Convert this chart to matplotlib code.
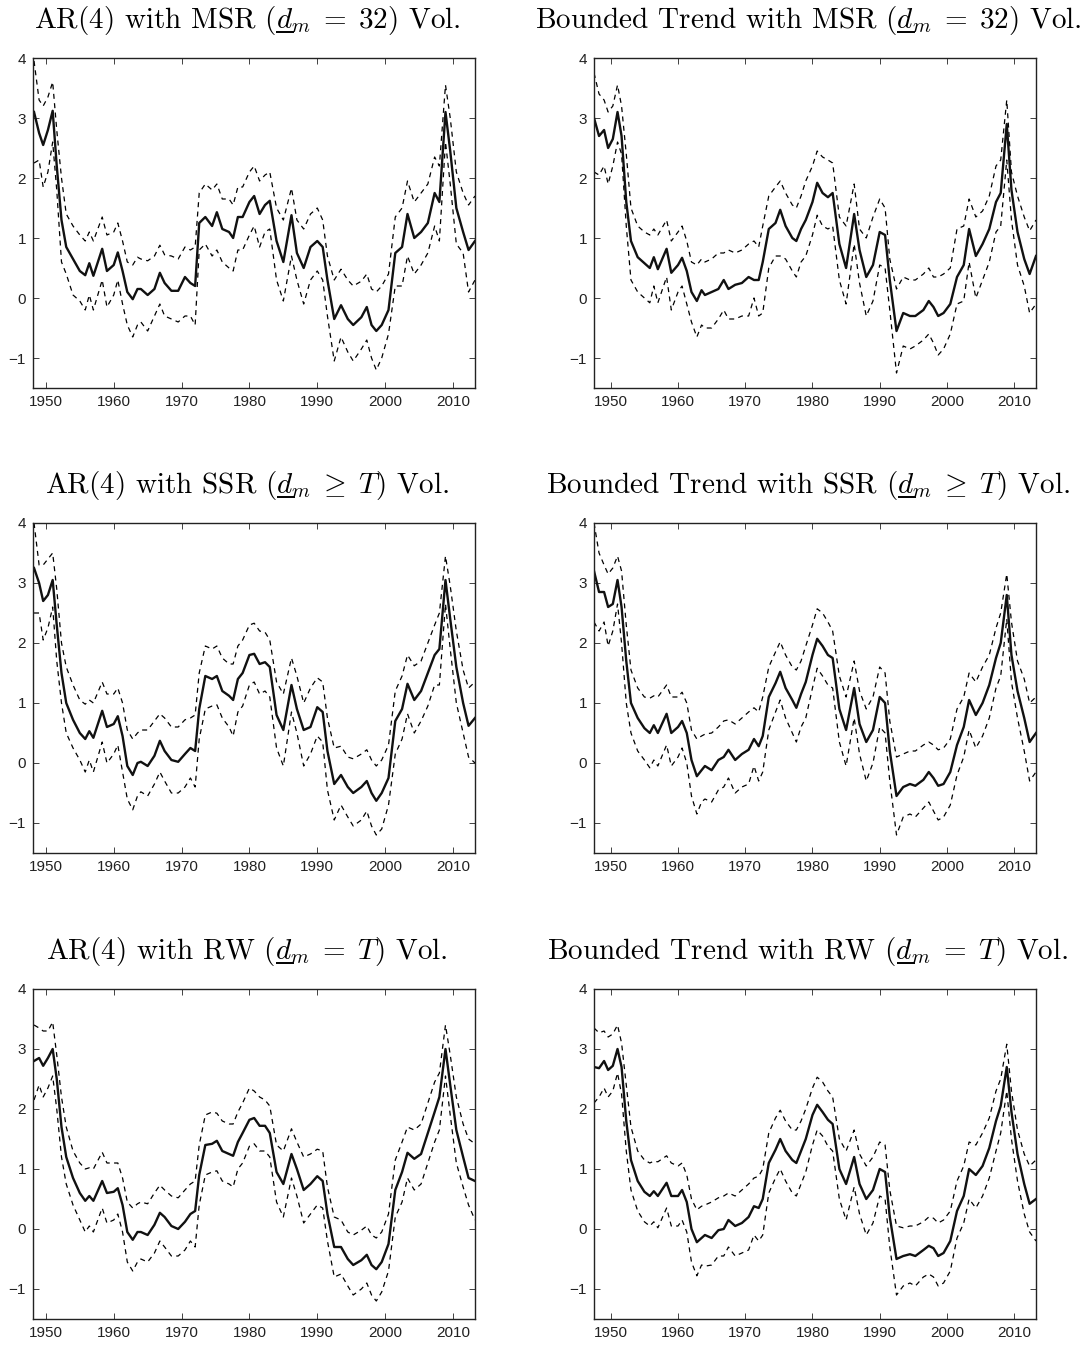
import matplotlib
matplotlib.use("Agg")
import matplotlib.pyplot as plt
from matplotlib.lines import Line2D
import numpy as np

plt.rcParams['mathtext.fontset'] = 'cm'
plt.rcParams['font.family'] = ['Liberation Sans', 'DejaVu Sans']

# ---------------- data ----------------
years_common = [1948.25, 1949.0, 1949.6, 1950.3, 1951.0, 1951.6,
                1952.3, 1953.0, 1954.0, 1955.0, 1955.8, 1956.4, 1957.0, 1958.3, 1959.0,
                1960.0, 1960.6, 1961.3, 1962.0, 1962.8, 1963.5, 1964.0, 1965.0, 1966.0, 1966.8, 1967.5, 1968.5, 1969.5,
                1970.5, 1971.3, 1972.0, 1972.6, 1973.5, 1974.5, 1975.2, 1976.0, 1977.0, 1977.6, 1978.3, 1979.0,
                1980.0, 1980.7, 1981.5, 1982.3, 1983.0, 1984.0, 1985.0, 1986.2, 1987.0, 1988.0, 1989.0,
                1990.0, 1990.8, 1991.5, 1992.5, 1993.5, 1994.5, 1995.3, 1996.5, 1997.3, 1998.0, 1998.7, 1999.5,
                2000.5, 2001.5, 2002.5, 2003.3, 2004.3, 2005.3, 2006.3, 2007.3, 2008.0, 2008.9, 2009.6, 2010.5,
                2011.5, 2012.3, 2013.25]
years_left = years_common
years_right = [1947.5] + years_common

# AR(4) with MSR
ar_msr_mid = [3.10, 2.75, 2.55, 2.80, 3.12, 2.20,
              1.30, 0.85, 0.65, 0.45, 0.38, 0.58, 0.37, 0.82, 0.45,
              0.55, 0.76, 0.45, 0.10, -0.02, 0.15, 0.15, 0.05, 0.15, 0.42, 0.25, 0.12, 0.12,
              0.35, 0.25, 0.20, 1.25, 1.35, 1.20, 1.43, 1.15, 1.10, 1.00, 1.35, 1.35,
              1.60, 1.70, 1.40, 1.55, 1.62, 0.95, 0.60, 1.38, 0.75, 0.50, 0.85,
              0.95, 0.85, 0.30, -0.35, -0.12, -0.35, -0.45, -0.32, -0.15, -0.45, -0.55, -0.45,
              -0.20, 0.75, 0.85, 1.40, 1.00, 1.10, 1.25, 1.75, 1.60, 3.10, 2.45, 1.50, 1.10, 0.80, 0.95]
ar_msr_up = [3.95, 3.30, 3.20, 3.35, 3.60, 2.80,
             2.00, 1.40, 1.20, 1.05, 0.95, 1.10, 0.95, 1.35, 1.05,
             1.10, 1.25, 0.95, 0.60, 0.55, 0.68, 0.65, 0.62, 0.70, 0.88, 0.72, 0.70, 0.65,
             0.85, 0.80, 0.85, 1.75, 1.90, 1.80, 1.90, 1.65, 1.65, 1.55, 1.85, 1.85,
             2.10, 2.20, 1.95, 2.05, 2.10, 1.50, 1.30, 1.83, 1.30, 1.15, 1.40,
             1.50, 1.30, 0.70, 0.30, 0.48, 0.30, 0.20, 0.28, 0.40, 0.15, 0.10, 0.20,
             0.40, 1.35, 1.50, 1.95, 1.60, 1.75, 1.90, 2.35, 2.20, 3.55, 3.00, 2.10, 1.75, 1.55, 1.70]
ar_msr_lo = [2.25, 2.30, 1.85, 2.10, 2.60, 1.80,
             0.60, 0.40, 0.05, -0.05, -0.20, 0.05, -0.20, 0.30, -0.15,
             0.05, 0.30, -0.10, -0.45, -0.65, -0.45, -0.40, -0.55, -0.30, -0.10, -0.30, -0.35, -0.40,
             -0.30, -0.30, -0.45, 0.80, 0.90, 0.70, 0.80, 0.60, 0.50, 0.45, 0.80, 0.80,
             1.05, 1.20, 0.85, 1.10, 1.15, 0.30, -0.05, 0.70, 0.30, -0.10, 0.30,
             0.45, 0.30, -0.30, -1.05, -0.65, -0.90, -1.05, -0.85, -0.70, -1.00, -1.20, -1.00,
             -0.60, 0.20, 0.20, 0.70, 0.40, 0.55, 0.75, 1.20, 0.95, 2.60, 1.90, 0.90, 0.75, 0.10, 0.30]

# AR(4) with SSR
ar_ssr_mid = [3.25, 3.00, 2.70, 2.80, 3.05, 2.30,
              1.50, 1.00, 0.72, 0.50, 0.40, 0.53, 0.42, 0.87, 0.60,
              0.65, 0.78, 0.45, -0.05, -0.20, 0.00, 0.02, -0.05, 0.12, 0.37, 0.20, 0.05, 0.02,
              0.15, 0.25, 0.20, 0.90, 1.45, 1.40, 1.45, 1.20, 1.12, 1.05, 1.40, 1.50,
              1.80, 1.82, 1.65, 1.68, 1.60, 0.80, 0.55, 1.30, 0.90, 0.55, 0.60,
              0.93, 0.85, 0.20, -0.35, -0.20, -0.40, -0.50, -0.40, -0.30, -0.50, -0.63, -0.50,
              -0.25, 0.70, 0.90, 1.32, 1.05, 1.20, 1.50, 1.80, 1.90, 3.05, 2.40, 1.60, 1.00, 0.62, 0.75]
ar_ssr_up = [4.00, 3.30, 3.30, 3.40, 3.50, 2.90,
             2.00, 1.60, 1.30, 1.05, 0.98, 1.05, 1.00, 1.35, 1.15,
             1.15, 1.25, 1.00, 0.55, 0.40, 0.50, 0.55, 0.55, 0.70, 0.82, 0.75, 0.60, 0.60,
             0.72, 0.75, 0.80, 1.50, 1.95, 1.90, 1.95, 1.75, 1.65, 1.65, 1.95, 2.05,
             2.30, 2.33, 2.20, 2.18, 2.05, 1.35, 1.15, 1.75, 1.45, 1.00, 1.25,
             1.42, 1.35, 0.75, 0.25, 0.28, 0.10, 0.07, 0.15, 0.22, 0.05, -0.05, 0.05,
             0.30, 1.20, 1.45, 1.80, 1.62, 1.70, 2.00, 2.30, 2.50, 3.45, 2.95, 2.20, 1.55, 1.25, 1.35]
ar_ssr_lo = [2.50, 2.50, 2.05, 2.25, 2.60, 1.70,
             1.00, 0.50, 0.25, 0.05, -0.15, 0.05, -0.15, 0.35, 0.00,
             0.15, 0.30, -0.15, -0.60, -0.78, -0.55, -0.48, -0.55, -0.35, -0.15, -0.30, -0.50, -0.50,
             -0.40, -0.25, -0.40, 0.40, 0.90, 0.95, 0.97, 0.75, 0.60, 0.45, 0.85, 0.95,
             1.30, 1.35, 1.15, 1.20, 1.10, 0.25, -0.05, 0.85, 0.50, -0.05, 0.15,
             0.45, 0.35, -0.45, -0.95, -0.70, -0.90, -1.05, -0.95, -0.80, -1.05, -1.20, -1.10,
             -0.70, 0.15, 0.40, 0.82, 0.50, 0.70, 0.95, 1.30, 1.30, 2.65, 1.90, 1.00, 0.50, 0.10, 0.00]

# AR(4) with RW
ar_rw_mid = [2.80, 2.85, 2.72, 2.85, 3.00, 2.50,
             1.70, 1.20, 0.85, 0.60, 0.47, 0.55, 0.47, 0.80, 0.60,
             0.62, 0.68, 0.40, -0.05, -0.18, -0.05, -0.05, -0.10, 0.07, 0.27, 0.20, 0.05, 0.00,
             0.12, 0.25, 0.30, 0.90, 1.40, 1.42, 1.47, 1.30, 1.25, 1.22, 1.45, 1.60,
             1.82, 1.85, 1.72, 1.72, 1.60, 0.95, 0.75, 1.25, 1.00, 0.65, 0.75,
             0.88, 0.80, 0.25, -0.30, -0.30, -0.50, -0.60, -0.52, -0.43, -0.60, -0.67, -0.55,
             -0.25, 0.65, 0.95, 1.27, 1.17, 1.25, 1.60, 1.95, 2.20, 3.00, 2.40, 1.65, 1.20, 0.85, 0.80]
ar_rw_up = [3.40, 3.35, 3.30, 3.30, 3.45, 2.90,
            2.20, 1.70, 1.30, 1.10, 1.00, 1.02, 1.00, 1.28, 1.10,
            1.10, 1.10, 0.85, 0.45, 0.35, 0.42, 0.45, 0.42, 0.60, 0.73, 0.65, 0.55, 0.52,
            0.65, 0.75, 0.80, 1.40, 1.90, 1.95, 1.93, 1.80, 1.75, 1.75, 1.95, 2.10,
            2.35, 2.30, 2.20, 2.15, 2.05, 1.40, 1.30, 1.67, 1.45, 1.20, 1.25,
            1.33, 1.30, 0.70, 0.20, 0.15, -0.05, -0.10, -0.02, 0.05, -0.10, -0.15, -0.05,
            0.25, 1.15, 1.45, 1.70, 1.65, 1.75, 2.10, 2.45, 2.60, 3.40, 2.90, 2.20, 1.75, 1.50, 1.42]
ar_rw_lo = [2.15, 2.40, 2.20, 2.35, 2.55, 2.00,
            1.20, 0.75, 0.40, 0.15, -0.05, 0.05, -0.05, 0.35, 0.10,
            0.15, 0.25, -0.05, -0.55, -0.70, -0.55, -0.50, -0.55, -0.40, -0.20, -0.30, -0.45, -0.45,
            -0.35, -0.20, -0.30, 0.40, 0.90, 0.95, 0.97, 0.80, 0.75, 0.70, 1.00, 1.10,
            1.38, 1.42, 1.30, 1.30, 1.20, 0.45, 0.20, 0.85, 0.55, 0.10, 0.25,
            0.40, 0.35, -0.20, -0.80, -0.75, -0.95, -1.10, -1.00, -0.90, -1.10, -1.20, -1.05,
            -0.70, 0.20, 0.45, 0.85, 0.65, 0.75, 1.10, 1.45, 1.65, 2.55, 1.90, 1.10, 0.70, 0.40, 0.15]

# Bounded Trend with MSR
bt_msr_mid = [3.00,
              2.70, 2.80, 2.50, 2.65, 3.10, 2.70,
              1.60, 0.95, 0.68, 0.58, 0.50, 0.68, 0.48, 0.82, 0.42,
              0.55, 0.67, 0.45, 0.10, -0.05, 0.13, 0.05, 0.10, 0.15, 0.30, 0.15, 0.22, 0.25,
              0.35, 0.30, 0.30, 0.60, 1.15, 1.25, 1.47, 1.20, 1.00, 0.95, 1.15, 1.30,
              1.60, 1.92, 1.75, 1.68, 1.75, 0.90, 0.50, 1.40, 0.80, 0.35, 0.55,
              1.10, 1.05, 0.30, -0.55, -0.25, -0.30, -0.30, -0.20, -0.05, -0.15, -0.30, -0.25,
              -0.10, 0.35, 0.55, 1.15, 0.70, 0.90, 1.15, 1.60, 1.75, 2.90, 1.80, 1.10, 0.65, 0.40, 0.70]
bt_msr_up = [3.75,
             3.40, 3.30, 3.10, 3.20, 3.55, 3.20,
             2.40, 1.50, 1.20, 1.10, 1.05, 1.15, 1.05, 1.30, 0.95,
             1.10, 1.20, 0.95, 0.60, 0.55, 0.65, 0.60, 0.65, 0.75, 0.75, 0.80, 0.75, 0.80,
             0.90, 0.95, 0.85, 1.20, 1.70, 1.85, 1.95, 1.75, 1.55, 1.50, 1.70, 1.95,
             2.20, 2.45, 2.35, 2.30, 2.25, 1.35, 1.20, 1.90, 1.15, 1.00, 1.35,
             1.65, 1.50, 0.65, 0.15, 0.35, 0.30, 0.30, 0.40, 0.50, 0.35, 0.35, 0.40,
             0.50, 1.15, 1.20, 1.65, 1.35, 1.45, 1.70, 2.20, 2.30, 3.30, 2.10, 1.70, 1.35, 1.12, 1.30]
bt_msr_lo = [2.10,
             2.05, 2.20, 1.90, 2.20, 2.60, 2.40,
             1.20, 0.30, 0.10, 0.00, -0.08, 0.20, -0.08, 0.35, -0.20,
             0.10, 0.20, -0.10, -0.40, -0.65, -0.45, -0.50, -0.50, -0.35, -0.20, -0.35, -0.35, -0.30,
             -0.30, 0.00, -0.30, -0.25, 0.50, 0.70, 0.70, 0.65, 0.45, 0.35, 0.60, 0.70,
             1.05, 1.38, 1.20, 1.15, 1.20, 0.30, -0.10, 0.90, 0.25, -0.30, -0.05,
             0.55, 0.50, -0.20, -1.25, -0.80, -0.85, -0.80, -0.70, -0.60, -0.75, -0.95, -0.85,
             -0.60, -0.10, -0.05, 0.60, 0.00, 0.30, 0.60, 1.10, 1.20, 2.30, 1.30, 0.55, 0.20, -0.25, -0.10]

# Bounded Trend with SSR
bt_ssr_mid = [3.20,
              2.85, 2.85, 2.60, 2.65, 3.05, 2.60,
              1.70, 1.00, 0.75, 0.58, 0.50, 0.63, 0.50, 0.82, 0.50,
              0.60, 0.70, 0.50, 0.05, -0.22, -0.12, -0.05, -0.12, 0.05, 0.10, 0.22, 0.05, 0.15,
              0.22, 0.40, 0.28, 0.45, 1.10, 1.33, 1.52, 1.25, 1.05, 0.92, 1.15, 1.35,
              1.80, 2.07, 1.95, 1.80, 1.75, 0.90, 0.55, 1.25, 0.65, 0.35, 0.55,
              1.10, 1.00, 0.20, -0.55, -0.40, -0.35, -0.38, -0.28, -0.15, -0.25, -0.38, -0.35,
              -0.15, 0.30, 0.60, 1.05, 0.80, 1.00, 1.30, 1.75, 2.00, 2.80, 1.80, 1.20, 0.75, 0.35, 0.50]
bt_ssr_up = [4.00,
             3.50, 3.30, 3.15, 3.25, 3.45, 3.20,
             2.30, 1.55, 1.25, 1.10, 1.08, 1.12, 1.10, 1.30, 1.10,
             1.10, 1.18, 1.00, 0.55, 0.40, 0.45, 0.48, 0.50, 0.60, 0.70, 0.72, 0.65, 0.75,
             0.85, 0.92, 0.85, 1.10, 1.60, 1.85, 2.02, 1.80, 1.60, 1.55, 1.70, 1.95,
             2.30, 2.57, 2.50, 2.35, 2.20, 1.45, 1.10, 1.70, 1.20, 0.90, 1.10,
             1.60, 1.50, 0.70, 0.10, 0.15, 0.20, 0.20, 0.30, 0.35, 0.30, 0.22, 0.25,
             0.40, 0.90, 1.10, 1.50, 1.35, 1.60, 1.80, 2.25, 2.50, 3.15, 2.35, 1.70, 1.40, 1.00, 1.10]
bt_ssr_lo = [2.35,
             2.20, 2.35, 1.95, 2.20, 2.65, 2.00,
             1.00, 0.50, 0.20, 0.05, -0.08, 0.05, -0.05, 0.30, -0.05,
             0.10, 0.25, 0.00, -0.55, -0.85, -0.65, -0.60, -0.65, -0.45, -0.40, -0.25, -0.50, -0.40,
             -0.35, -0.05, -0.30, -0.15, 0.55, 0.85, 1.05, 0.75, 0.50, 0.35, 0.60, 0.75,
             1.25, 1.58, 1.45, 1.30, 1.25, 0.35, -0.05, 0.75, 0.15, -0.30, 0.00,
             0.60, 0.50, -0.30, -1.20, -0.90, -0.85, -0.90, -0.75, -0.65, -0.80, -0.95, -0.90,
             -0.70, -0.20, 0.10, 0.55, 0.25, 0.45, 0.75, 1.25, 1.45, 2.40, 1.35, 0.75, 0.20, -0.30, -0.15]

# Bounded Trend with RW
bt_rw_mid = [2.70,
             2.68, 2.80, 2.65, 2.72, 3.00, 2.70,
             1.80, 1.15, 0.80, 0.62, 0.55, 0.63, 0.55, 0.77, 0.55,
             0.55, 0.65, 0.45, 0.00, -0.22, -0.15, -0.10, -0.15, -0.02, 0.00, 0.15, 0.05, 0.10,
             0.20, 0.38, 0.35, 0.50, 1.10, 1.32, 1.50, 1.30, 1.15, 1.10, 1.30, 1.50,
             1.90, 2.07, 1.95, 1.82, 1.75, 1.00, 0.75, 1.20, 0.75, 0.50, 0.65,
             1.00, 0.95, 0.20, -0.50, -0.45, -0.42, -0.45, -0.35, -0.28, -0.32, -0.45, -0.40,
             -0.20, 0.30, 0.55, 1.00, 0.90, 1.05, 1.35, 1.80, 2.05, 2.70, 1.95, 1.25, 0.75, 0.42, 0.50]
bt_rw_up = [3.35,
            3.27, 3.30, 3.20, 3.25, 3.40, 3.10,
            2.40, 1.70, 1.30, 1.15, 1.10, 1.13, 1.12, 1.22, 1.10,
            1.05, 1.10, 0.90, 0.50, 0.32, 0.38, 0.40, 0.45, 0.52, 0.55, 0.60, 0.55, 0.65,
            0.75, 0.85, 0.88, 1.00, 1.60, 1.85, 1.98, 1.80, 1.65, 1.65, 1.80, 2.00,
            2.35, 2.53, 2.45, 2.30, 2.20, 1.50, 1.30, 1.65, 1.25, 1.05, 1.20,
            1.45, 1.40, 0.65, 0.05, 0.02, 0.05, 0.05, 0.12, 0.20, 0.18, 0.10, 0.15,
            0.30, 0.80, 1.05, 1.45, 1.40, 1.60, 1.85, 2.30, 2.50, 3.08, 2.30, 1.65, 1.25, 1.05, 1.15]
bt_rw_lo = [2.10,
            2.20, 2.35, 2.20, 2.30, 2.60, 2.25,
            1.30, 0.65, 0.30, 0.12, 0.05, 0.12, 0.02, 0.35, 0.05,
            0.05, 0.15, -0.05, -0.55, -0.78, -0.60, -0.62, -0.60, -0.45, -0.45, -0.30, -0.45, -0.40,
            -0.35, -0.10, -0.20, -0.10, 0.60, 0.85, 1.00, 0.80, 0.60, 0.55, 0.75, 0.95,
            1.40, 1.65, 1.55, 1.38, 1.30, 0.50, 0.15, 0.70, 0.25, -0.10, 0.10,
            0.55, 0.50, -0.30, -1.10, -0.95, -0.90, -0.95, -0.80, -0.75, -0.80, -0.95, -0.90,
            -0.70, -0.15, 0.10, 0.50, 0.35, 0.55, 0.85, 1.30, 1.60, 2.30, 1.50, 0.80, 0.25, -0.05, -0.20]

# title pieces: prefix text, math part (the "d" gets an underline), suffix
title_prefix = [['AR(4) with MSR (', 'Bounded Trend with MSR ('],
                ['AR(4) with SSR (', 'Bounded Trend with SSR ('],
                ['AR(4) with RW (', 'Bounded Trend with RW (']]
title_math = [r'$d_m \;=\; 32$', r'$d_m \;\geq\; T$', r'$d_m \;=\; T$']
title_suffix = ') Vol.'

panels = [
    [(years_left, ar_msr_mid, ar_msr_up, ar_msr_lo), (years_right, bt_msr_mid, bt_msr_up, bt_msr_lo)],
    [(years_left, ar_ssr_mid, ar_ssr_up, ar_ssr_lo), (years_right, bt_ssr_mid, bt_ssr_up, bt_ssr_lo)],
    [(years_left, ar_rw_mid, ar_rw_up, ar_rw_lo), (years_right, bt_rw_mid, bt_rw_up, bt_rw_lo)],
]
xlims = [(1948.1, 2013.25), (1947.5, 2013.25)]
xticks = [1950, 1960, 1970, 1980, 1990, 2000, 2010]
yticks = [-1, 0, 1, 2, 3, 4]

# ---------------- figure ----------------
W, H = 1091, 1345
fig = plt.figure(figsize=(W / 100, H / 100), dpi=100)
renderer = fig.canvas.get_renderer()
lefts = [33, 594]
tops = [58, 523, 989]
aw, ah = 442, 330
TFS = 21


def text_width(s):
    t = fig.text(0, 0, s, fontsize=TFS, family='cmr10')
    w = t.get_window_extent(renderer).width
    t.remove()
    return w


def add_title(cx, base_y, prefix, math):
    full = prefix + math + title_suffix
    total = text_width(full)
    x0 = cx - total / 2
    fig.text(x0 / W, base_y / H, full, fontsize=TFS, family='cmr10',
             ha='left', va='baseline')
    # underline beneath the "d"
    dx0 = x0 + text_width(prefix)
    dw = text_width(r'$d$')
    uy = base_y - 4
    fig.add_artist(Line2D([(dx0 + 0.5) / W, (dx0 + dw + 1.5) / W], [uy / H, uy / H],
                          transform=fig.transFigure, color='k', lw=1.4,
                          solid_capstyle='butt'))


for r in range(3):
    for c in range(2):
        ax = fig.add_axes([lefts[c] / W, 1 - (tops[r] + ah) / H, aw / W, ah / H])
        yrs, mid, up, lo = panels[r][c]
        ax.plot(yrs, up, color='k', lw=0.9, linestyle=(0, (4, 3.5)))
        ax.plot(yrs, lo, color='k', lw=0.9, linestyle=(0, (4, 3.5)))
        ax.plot(yrs, mid, color='#111111', lw=1.7)
        ax.set_xlim(*xlims[c])
        ax.set_ylim(-1.5, 4)
        ax.set_xticks(xticks)
        ax.set_yticks(yticks)
        ax.tick_params(direction='in', length=4, width=0.6, top=True, right=True,
                       labelsize=11, pad=5, colors='#222222')
        for s in ax.spines.values():
            s.set_linewidth(1.0)
            s.set_color('#222222')
        cx = lefts[c] + aw / 2 - 7
        base_y = H - tops[r] + 30
        add_title(cx, base_y, title_prefix[r][c], title_math[r])

fig.savefig('out.png', dpi=100)
